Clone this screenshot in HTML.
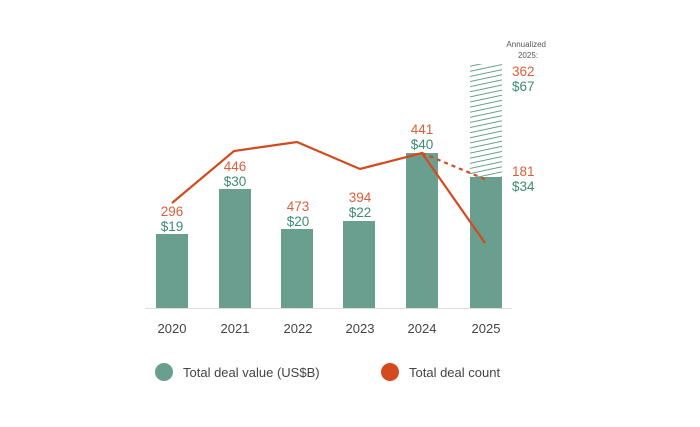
<!DOCTYPE html>
<html><head><style>body{margin:0;background:#fff}</style></head><body>
<svg width="700" height="422" xmlns="http://www.w3.org/2000/svg" font-family="Liberation Sans, sans-serif">
<defs><pattern id="h" width="8" height="5" patternUnits="userSpaceOnUse" patternTransform="rotate(-12)"><line x1="0" y1="2.5" x2="8" y2="2.5" stroke="#6a9e8e" stroke-width="1"/></pattern></defs>
<line x1="145" y1="308.5" x2="512" y2="308.5" stroke="#ddd"/>
<g fill="#6a9e8e">
<rect x="156" y="234" width="32" height="74"/>
<rect x="219" y="189" width="32" height="119"/>
<rect x="281" y="229" width="32" height="79"/>
<rect x="343" y="221" width="32" height="87"/>
<rect x="406" y="153" width="32" height="155"/>
<rect x="470" y="177" width="32" height="131"/>
</g>
<rect x="470" y="64" width="32" height="113" fill="url(#h)"/>
<polyline points="172,203 234,151 297,142 360,169 422,153 485,243" fill="none" stroke="#d24a1e" stroke-width="2.2"/>
<line x1="422" y1="153" x2="487" y2="180" stroke="#d24a1e" stroke-width="2.2" stroke-dasharray="4,4"/>
<g font-size="13.5" text-anchor="middle">
<g fill="#d9603a"><text x="172" y="216">296</text><text x="235" y="171">446</text><text x="298" y="211">473</text><text x="360" y="202">394</text><text x="422" y="134">441</text></g>
<g fill="#3f8a74"><text x="172" y="231">$19</text><text x="235" y="186">$30</text><text x="298" y="226">$20</text><text x="360" y="217">$22</text><text x="422" y="149">$40</text></g>
</g>
<g font-size="13.5" text-anchor="start">
<text x="512" y="76" fill="#d9603a">362</text><text x="512" y="91" fill="#3f8a74">$67</text>
<text x="512" y="176" fill="#d9603a">181</text><text x="512" y="191" fill="#3f8a74">$34</text>
</g>
<g font-size="8" fill="#555" text-anchor="end"><text x="546" y="47">Annualized</text><text x="538" y="58">2025:</text></g>
<g font-size="13" fill="#444" text-anchor="middle">
<text x="172" y="333">2020</text><text x="235" y="333">2021</text><text x="298" y="333">2022</text><text x="360" y="333">2023</text><text x="422" y="333">2024</text><text x="486" y="333">2025</text>
</g>
<circle cx="164" cy="372" r="9" fill="#6a9e8e"/>
<text x="183" y="377" font-size="13" fill="#444">Total deal value (US$B)</text>
<circle cx="390" cy="372" r="9" fill="#d24a1e"/>
<text x="409" y="377" font-size="13" fill="#444">Total deal count</text>
</svg>
</body></html>
